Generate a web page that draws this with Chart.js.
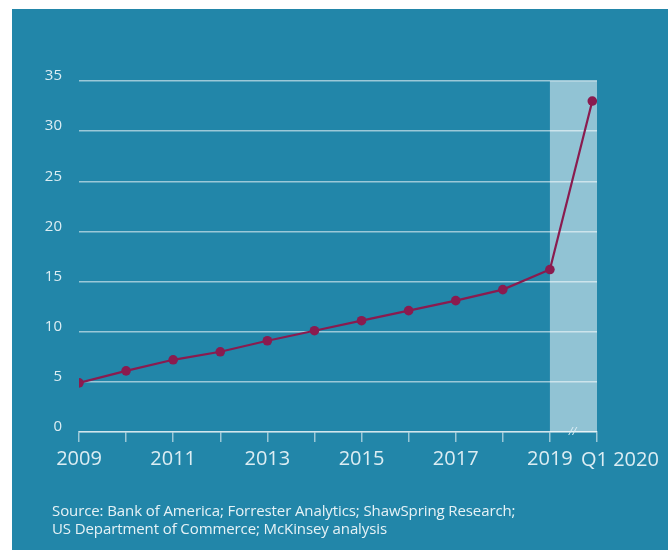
<!DOCTYPE html>
<html>
<head>
<meta charset="utf-8">
<script src="https://cdn.jsdelivr.net/npm/chart.js@4.4.1/dist/chart.umd.min.js"></script>
<style>
  html, body { margin: 0; padding: 0; background: #fff; }
  body { width: 668px; height: 550px; position: relative; overflow: hidden; }
  #panel { position: absolute; left: 12px; top: 9px; width: 656px; height: 541px; background: #2286a9; }
  #wrap { position: absolute; left: 0; top: 0; width: 668px; height: 550px; }
  #source {
    position: absolute; left: 52px; top: 501px;
    font-family: "Open Sans", sans-serif; font-size: 15px; line-height: 18px;
    color: #e6f2f6; letter-spacing: -0.1px;
  }
</style>
</head>
<body>
<div id="panel"></div>
<div id="wrap"><canvas id="chart" width="668" height="550"></canvas></div>
<div id="source">Source: Bank of America; Forrester Analytics; ShawSpring Research;<br>US Department of Commerce; McKinsey analysis</div>
<script>
  // values
  const periods = ['2009', '2010', '2011', '2012', '2013', '2014', '2015', '2016', '2017', '2018', '2019', 'Q1 2020'];
  const periodX = [2009, 2010, 2011, 2012, 2013, 2014, 2015, 2016, 2017, 2018, 2019, 2019.9];
  const values = [4.9, 6.1, 7.2, 8.0, 9.1, 10.1, 11.1, 12.1, 13.1, 14.2, 16.2, 33.0];
  const xTicks = [2009, 2010, 2011, 2012, 2013, 2014, 2015, 2016, 2017, 2018, 2019, 2020];
  const xTickLabels = ['2009', '', '2011', '', '2013', '', '2015', '', '2017', '', '2019', ''];
  const lastLabel = 'Q1 2020';
  const highlightFrom = 2019;
  const highlightTo = 2020;

  const light = '#dcedf3';
  const gridCol = 'rgba(255,255,255,0.55)';
  const lineCol = '#8a1b4f';

  const extras = {
    id: 'extras',
    beforeDraw(chart) {
      const { ctx, chartArea: a, scales: { x } } = chart;
      const x0 = x.getPixelForValue(highlightFrom);
      const x1 = x.getPixelForValue(highlightTo);
      ctx.save();
      ctx.fillStyle = 'rgba(255,255,255,0.5)';
      ctx.fillRect(x0, a.top, x1 - x0, a.bottom - a.top);
      ctx.restore();
    },
    afterDraw(chart) {
      const { ctx, chartArea: a, scales: { x } } = chart;
      const x0 = x.getPixelForValue(highlightFrom);
      const x1 = x.getPixelForValue(highlightTo);
      ctx.save();
      ctx.fillStyle = light;
      ctx.font = 'italic 11px "Open Sans"';
      ctx.textAlign = 'center';
      ctx.textBaseline = 'middle';
      ctx.fillText('//', x0 + (x1 - x0) * 0.48, a.bottom);
      ctx.font = '20px "Open Sans"';
      ctx.textAlign = 'left';
      ctx.fillText(lastLabel, x1 - 16, a.bottom + 28);
      ctx.restore();
    }
  };

  new Chart(document.getElementById('chart'), {
    type: 'line',
    data: {
      labels: periods,
      datasets: [{
        label: 'Share',
        data: periodX.map((v, i) => ({ x: v, y: values[i] })),
        borderColor: lineCol,
        backgroundColor: lineCol,
        borderWidth: 2.2,
        tension: 0,
        pointRadius: 4.8,
        pointBackgroundColor: lineCol,
        pointBorderWidth: 0
      }]
    },
    options: {
      responsive: false,
      animation: false,
      layout: { padding: { left: 39, right: 71, top: 81, bottom: 68 } },
      plugins: { legend: { display: false }, tooltip: { enabled: false } },
      scales: {
        x: {
          type: 'linear',
          min: 2009,
          max: 2020,
          afterBuildTicks: (s) => { s.ticks = xTicks.map((v) => ({ value: v })); },
          afterFit: (s) => { s.height = 50; },
          border: { display: true, color: gridCol, width: 1.5 },
          grid: { drawOnChartArea: false, drawTicks: true, tickLength: 10, color: gridCol, lineWidth: 1.5 },
          ticks: {
            autoSkip: false,
            maxRotation: 0,
            padding: 5,
            color: light,
            font: { family: 'Open Sans', size: 20 },
            callback: (v, i) => xTickLabels[i]
          }
        },
        y: {
          min: 0,
          max: 35,
          afterFit: (s) => { s.width = 40; },
          border: { display: false },
          grid: { drawTicks: false, color: gridCol, lineWidth: 1.5 },
          ticks: {
            stepSize: 5,
            padding: 17,
            labelOffset: -5,
            color: light,
            font: { family: 'Open Sans', size: 15 }
          }
        }
      }
    },
    plugins: [extras]
  });
</script>
</body>
</html>
